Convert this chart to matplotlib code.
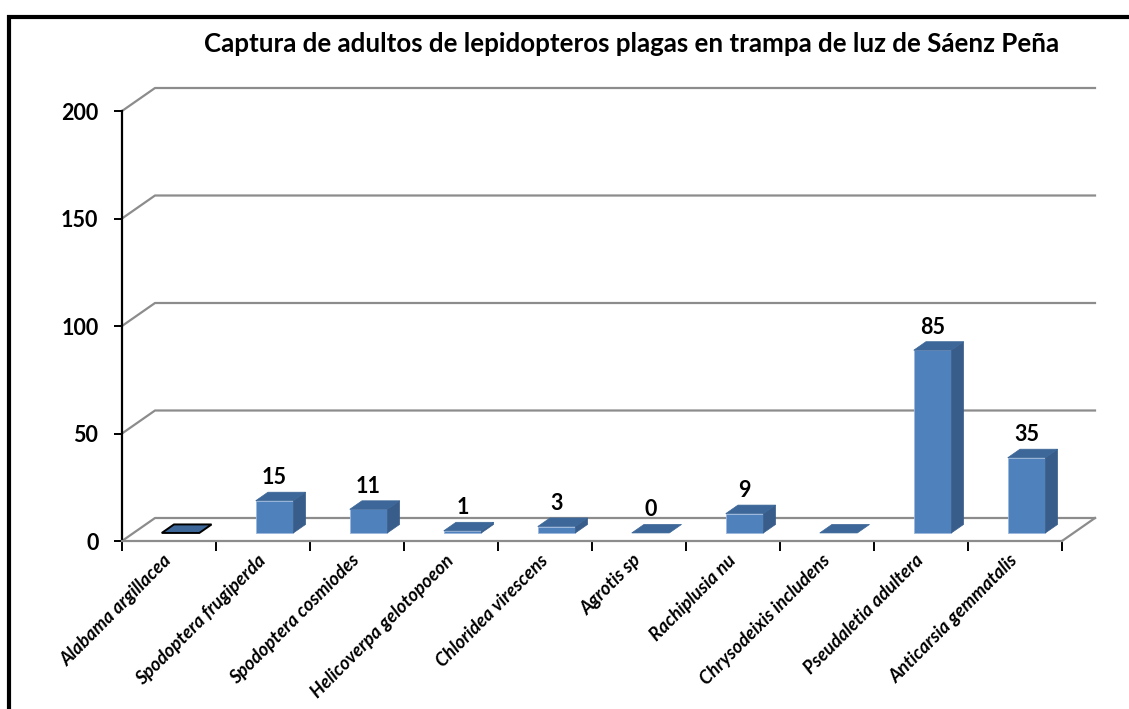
import matplotlib.pyplot as plt
from matplotlib.patches import Polygon, Rectangle

############
# Data
species = ["Alabama argillacea", "Spodoptera frugiperda", "Spodoptera cosmiodes",
           "Helicoverpa gelotopoeon", "Chloridea virescens", "Agrotis sp",
           "Rachiplusia nu", "Chrysodeixis includens", "Pseudaletia adultera",
           "Anticarsia gemmatalis"]
captures = [0, 15, 11, 1, 3, 0, 9, 0, 85, 35]
show_label = [False, True, True, True, True, True, True, False, True, True]
yticks = [0, 50, 100, 150, 200]
title = "Captura de adultos de lepidopteros plagas en trampa de luz de Sáenz Peña"
############

plt.rcParams['font.family'] = ['Lato', 'DejaVu Sans']

W, H = 1129, 709
fig = plt.figure(figsize=(W / 100, H / 100), dpi=100)
# front plane of the pseudo-3D box, in pixels
x0, x1, ytop, ybot = 122, 1062, 111, 541
ax = fig.add_axes([x0 / W, 1 - ybot / H, (x1 - x0) / W, (ybot - ytop) / H])
n = len(species)
ax.set_xlim(0, n)
ax.set_ylim(0, 200)

# depth of the box in data units
dxd = 33 / ((x1 - x0) / n)
dyd = 23 / ((ybot - ytop) / 200)

grid_c = "#8c8c8c"
for y in yticks:
    ax.plot([0, dxd, n + dxd], [y, y + dyd, y + dyd], color=grid_c, lw=1.6,
            clip_on=False, zorder=1)
ax.plot([n, n + dxd], [0, dyd], color=grid_c, lw=1.6, clip_on=False, zorder=1)

# bars
front_c, side_c, top_c = "#4f81bd", "#385d8a", "#3c6798"
f0, d, bw = 0.35, 0.37, 0.40
for i, v in enumerate(captures):
    xl = i + 0.5 - bw / 2 + f0 * dxd
    xr = xl + bw
    yb = f0 * dyd
    yt = yb + v
    ox, oy = d * dxd, d * dyd
    if v > 0:
        ax.add_patch(Rectangle((xl, yb), bw, v, facecolor=front_c,
                               edgecolor="#9bb7dc", lw=0.6, clip_on=False, zorder=3))
        ax.add_patch(Polygon([(xr, yb), (xr + ox, yb + oy), (xr + ox, yt + oy), (xr, yt)],
                             closed=True, facecolor=side_c, edgecolor=side_c, lw=0.5,
                             clip_on=False, zorder=3))
    ec = "black" if i == 0 else top_c
    ax.add_patch(Polygon([(xl, yt), (xr, yt), (xr + ox, yt + oy), (xl + ox, yt + oy)],
                         closed=True, facecolor=top_c, edgecolor=ec,
                         lw=1.4 if i == 0 else 0.5, clip_on=False, zorder=4))
    if show_label[i]:
        ax.annotate(str(v), (xl + bw / 2, yt + oy), xytext=(0, 3),
                    textcoords="offset points", ha="center", va="bottom",
                    fontsize=15.5, fontweight="bold", zorder=5)

# axes styling
for s in ["top", "right"]:
    ax.spines[s].set_visible(False)
ax.spines["left"].set_color("black")
ax.spines["left"].set_linewidth(1.6)
ax.spines["bottom"].set_color(grid_c)
ax.spines["bottom"].set_linewidth(1.6)
ax.patch.set_alpha(0)

ax.set_yticks(yticks)
ax.set_yticklabels([str(t) for t in yticks], fontsize=15.5, fontweight="bold")
ax.tick_params(axis="y", direction="out", length=6, width=1.4, pad=11)

ax.set_xticks(range(n + 1))
ax.set_xticklabels([])
ax.tick_params(axis="x", which="major", direction="out", length=7, width=1.4)
ax.set_xticks([i + 0.5 for i in range(n)], minor=True)
ax.set_xticklabels(species, minor=True, rotation=45, ha="right", va="center",
                   rotation_mode="anchor", fontsize=13.2, fontweight="bold",
                   fontstyle="italic")
ax.tick_params(axis="x", which="minor", length=0, pad=12)

fig.text(632 / W, 1 - 44 / H, title, ha="center", va="center",
         fontsize=18.6, fontweight="bold")

# outer chart frame (runs past right and bottom edges)
fig.patches.append(Rectangle((9 / W, -0.1), 1.2, (H - 16.5) / H + 0.1,
                             transform=fig.transFigure, fill=False,
                             edgecolor="black", lw=3, zorder=10))

fig.savefig("out.png", dpi=100)
